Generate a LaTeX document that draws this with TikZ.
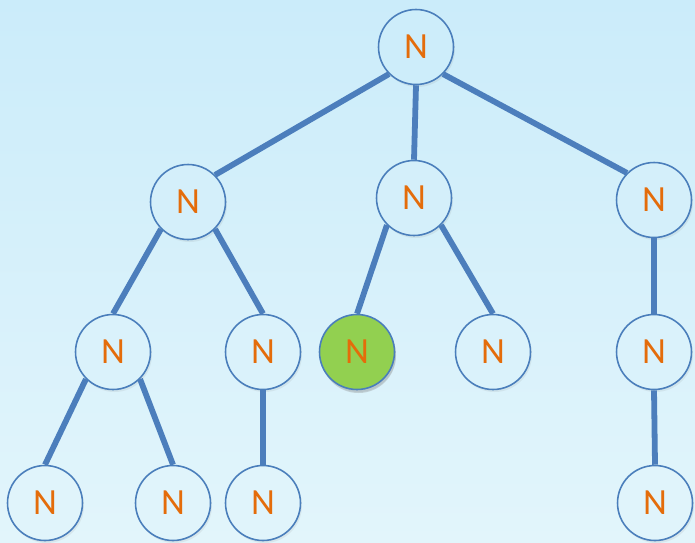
\documentclass[tikz,border=0pt]{standalone}
\usepackage{fontspec}
\setmainfont{Carlito}
\usepackage{tikz}
\usetikzlibrary{shadows}
\definecolor{edgeblue}{RGB}{76,126,188}
\definecolor{rimblue}{RGB}{74,126,187}
\definecolor{letter}{RGB}{228,108,10}
\definecolor{leaf}{RGB}{146,208,80}
\definecolor{skytop}{RGB}{203,236,250}
\definecolor{skybot}{RGB}{226,245,251}

\tikzset{
  tnode/.style={circle, draw=rimblue, line width=0.9pt, minimum size=1.5cm,
    inner sep=0pt, text=letter, font=\fontsize{21}{23}\selectfont,
    drop shadow={opacity=0.12, shadow xshift=0.03cm, shadow yshift=-0.05cm},
    fill=skybot!#1!skytop},
  tnode/.default=50,
  found/.style={tnode, fill=leaf,
    drop shadow={opacity=0.3, shadow xshift=0.03cm, shadow yshift=-0.07cm}},
  branch/.style={draw=edgeblue, line width=3.3pt}
}

\begin{document}
\begin{tikzpicture}[x=0.02cm, y=-0.02cm]
\shade[top color=skytop, bottom color=skybot] (0,0) rectangle (695,542);
\useasboundingbox (0,0) rectangle (695,542);
% nodes
\node[tnode=9] (r) at (416,47) {N};
\node[tnode=37] (a) at (188,202) {N};
\node[tnode=37] (b) at (414,198) {N};
\node[tnode=37] (c) at (654,200) {N};
\node[tnode=65] (aa) at (113,352) {N};
\node[tnode=65] (ab) at (263,352) {N};
\node[found] (ba) at (357,352) {N};
\node[tnode=65] (bb) at (493,352) {N};
\node[tnode=65] (ca) at (654,352) {N};
\node[tnode=93] (aaa) at (45,503) {N};
\node[tnode=93] (aab) at (173,503) {N};
\node[tnode=93] (aba) at (263,503) {N};
\node[tnode=93] (caa) at (655,503) {N};
% branches
\draw[branch] (r.south west) -- (a.north east);
\draw[branch] (r.south) -- (b.north);
\draw[branch] (r.south east) -- (c.north west);
\draw[branch] (a.south west) -- (aa.north);
\draw[branch] (a.south east) -- (ab.north);
\draw[branch] (b.south west) -- (ba.north);
\draw[branch] (b.south east) -- (bb.north);
\draw[branch] (c.south) -- (ca.north);
\draw[branch] (aa.south west) -- (aaa.north);
\draw[branch] (aa.south east) -- (aab.north);
\draw[branch] (ab.south) -- (aba.north);
\draw[branch] (ca.south) -- (caa.north);
\end{tikzpicture}
\end{document}
